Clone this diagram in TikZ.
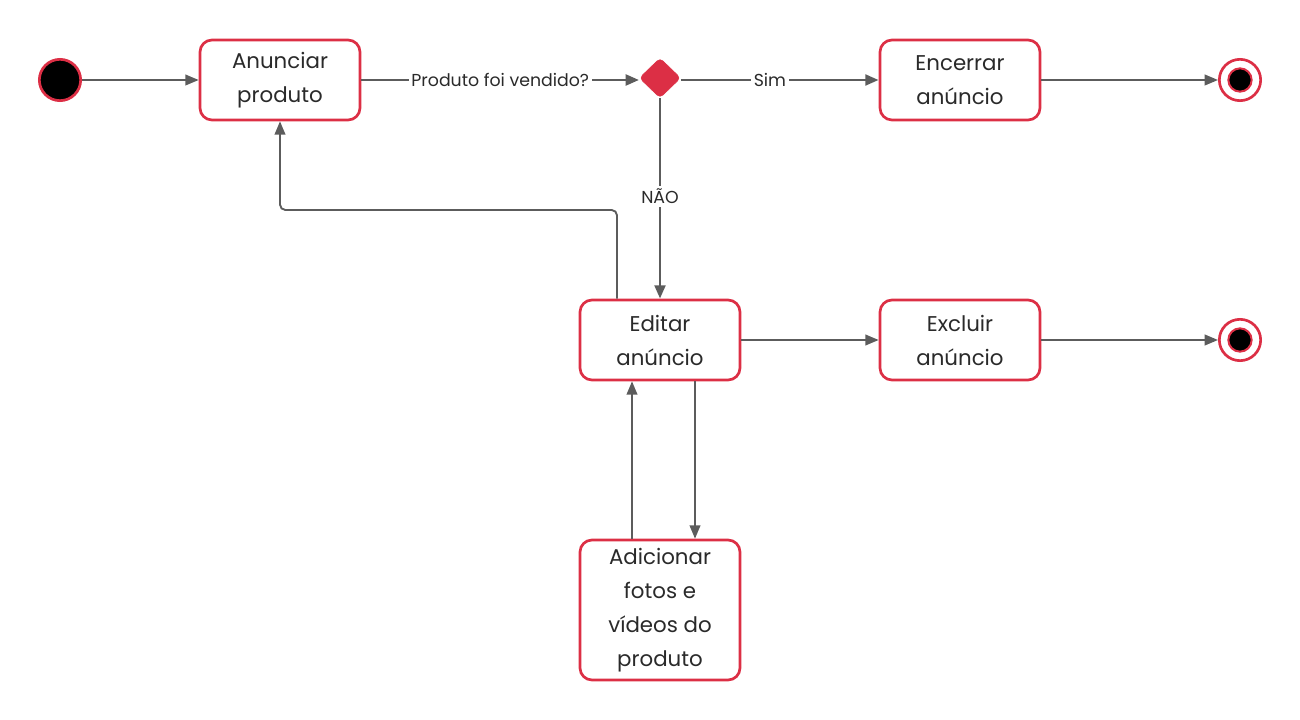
\documentclass[tikz,border=0pt]{standalone}
\usepackage{fontspec}
\setmainfont{Poppins}
\usetikzlibrary{arrows.meta,shapes.geometric}
\definecolor{rd}{HTML}{DC2F45}
\definecolor{ln}{HTML}{5C5C5C}
\definecolor{tx}{HTML}{2A2A2A}
\tikzset{
  x=0.75pt,y=-0.75pt,
  state/.style={draw=rd,line width=2pt,rounded corners=9pt,fill=white,minimum width=120pt,minimum height=60pt,inner sep=0pt,align=center,font=\fontsize{16}{25.5}\selectfont,text=tx},
  conn/.style={draw=ln,line width=1.4pt,-{Triangle[length=10pt,width=8pt]}},
  thick conn/.style={draw=ln,line width=2.2pt,-{Triangle[length=10pt,width=8pt]}},
  lbl/.style={fill=white,inner sep=2pt,font=\fontsize{13}{15}\selectfont,text=tx},
  startdot/.style={circle,draw=rd,line width=2pt,fill=black,minimum size=31pt,inner sep=0pt},
  enddot/.style={circle,draw=rd,line width=2pt,fill=white,minimum size=31pt,inner sep=0pt},
  enddotin/.style={circle,draw=rd,line width=1.5pt,fill=black,minimum size=17.5pt,inner sep=0pt},
}
\begin{document}
\begin{tikzpicture}
\useasboundingbox (0,0) rectangle (1300,720);
\node[startdot] (start) at (60,80) {};
\node[state] (anun) at (280,80) {Anunciar\\produto};
\node[draw=rd,fill=rd,diamond,rounded corners=3pt,minimum width=31pt,minimum height=30pt,inner sep=0pt] (dec) at (660,78) {};
\node[state] (enc) at (960,80) {Encerrar\\anúncio};
\node[enddot] (end1) at (1240,80) {};
\node[enddotin] (end1in) at (1240,80) {};
\node[state] (edit) at (660,340) {Editar\\anúncio};
\node[state] (excl) at (960,340) {Excluir\\anúncio};
\node[enddot] (end2) at (1240,340) {};
\node[enddotin] (end2in) at (1240,340) {};
\node[state,minimum height=105pt] (adic) at (660,610) {Adicionar\\fotos e\\vídeos do\\produto};

\draw[conn] (start) -- (anun.west |- 0,80);
\draw[thick conn] (anun.east |- 0,80) -- node[lbl]{Produto foi vendido?} (dec.west |- 0,80);
\draw[thick conn] (dec.east |- 0,80) -- node[lbl,pos=0.45]{Sim} (enc.west |- 0,80);
\draw[thick conn] (dec.south) -- node[lbl,pos=0.49]{NÃO} (edit.north);
\draw[conn] (enc.east |- 0,80) -- (end1.west);
\draw[conn] (edit.east |- 0,340) -- (excl.west |- 0,340);
\draw[conn] (excl.east |- 0,340) -- (end2.west);
\coordinate (ua) at (617,300);
\draw[conn,rounded corners=4pt] (edit.north -| ua) -- (617,210) -- (280,210) -- (anun.south);
\coordinate (da) at (695,380);
\draw[conn] (edit.south -| da) -- (adic.north -| da);
\coordinate (ub) at (632,540);
\draw[conn] (adic.north -| ub) -- (edit.south -| ub);
\end{tikzpicture}
\end{document}
